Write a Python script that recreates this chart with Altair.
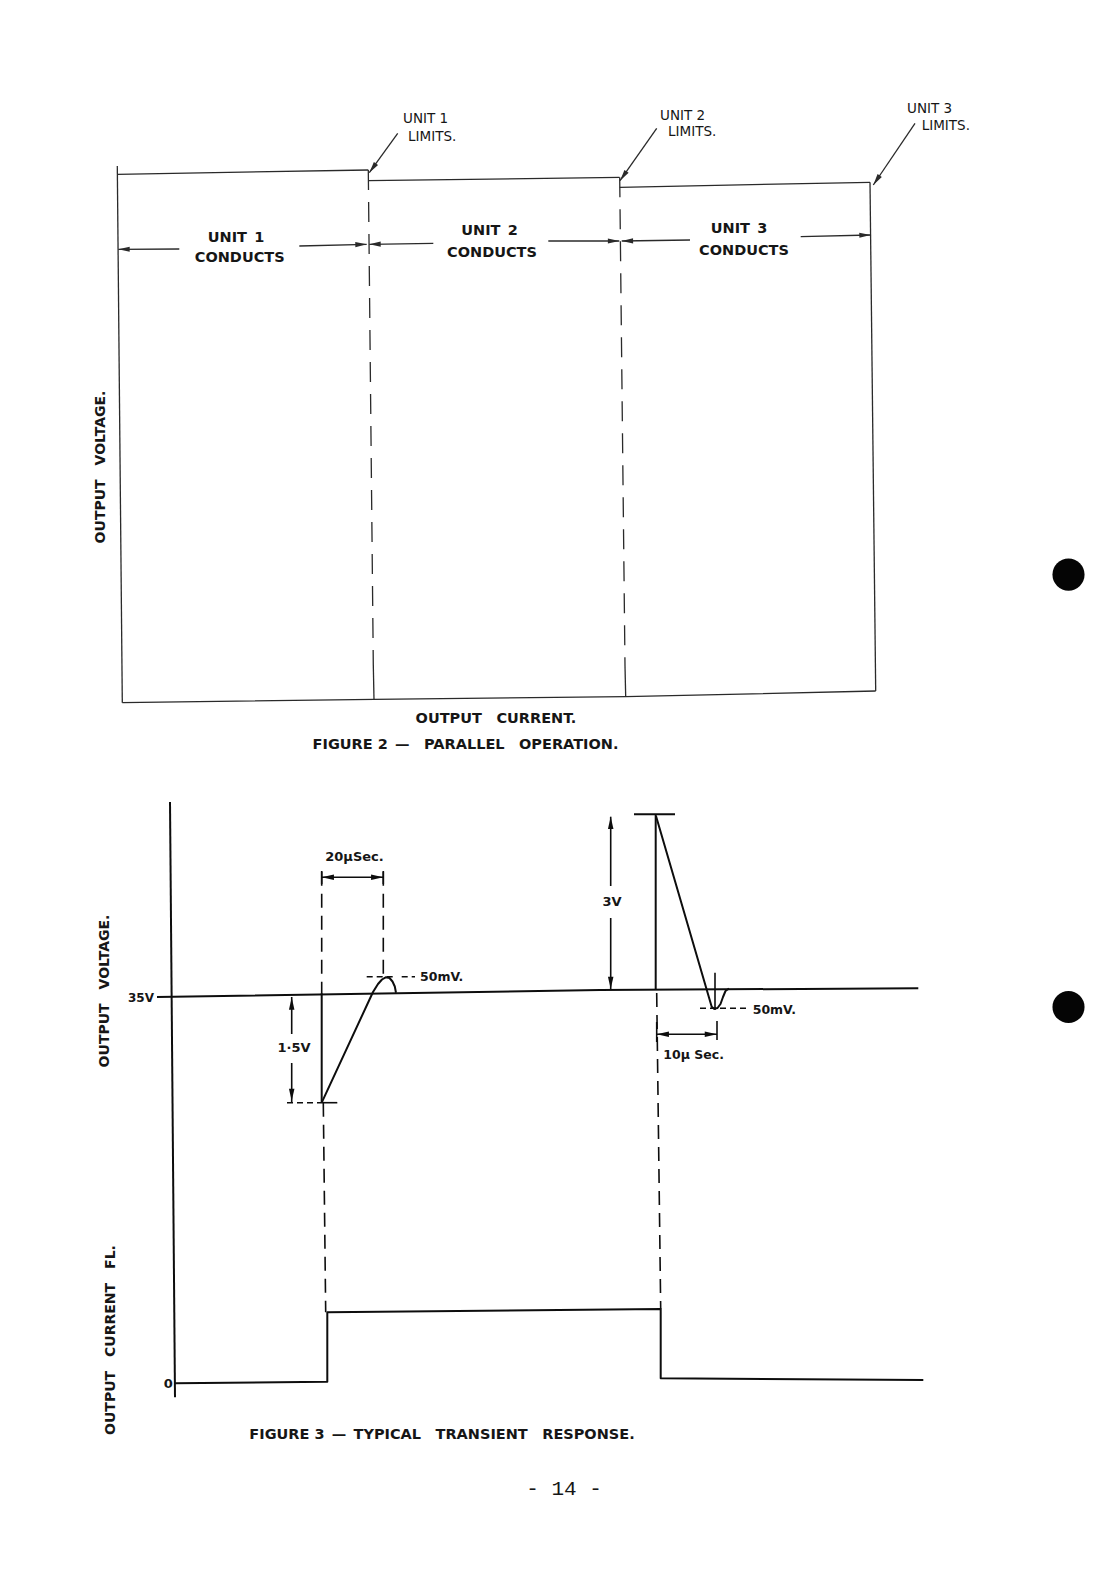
import math
import altair as alt
import pandas as pd

EM = "\u2003"   # wide word gap, as in the stencilled lettering
EN = "\u2002"

# ---------------- Figure 2 : parallel operation (drawing units = page units) ----------------
F2_SOLID = {
    "left":   [(117.3, 166.0), (122.3, 702.7)],
    "bottom": [(122.3, 702.7), (374.0, 699.3), (625.7, 696.7), (875.7, 691.0)],
    "top1":   [(117.3, 174.3), (368.3, 170.0)],
    "top2":   [(368.3, 180.7), (619.5, 177.3)],
    "top3":   [(619.7, 187.3), (870.0, 182.3)],
    "right":  [(870.0, 182.3), (875.7, 691.0)],
    "div1b":  [(373.3, 665.0), (374.0, 699.3)],
    "div2b":  [(625.0, 666.0), (625.7, 696.7)],
    "u1l":    [(118.3, 249.3), (179.3, 249.0)],
    "u1r":    [(299.3, 246.0), (366.7, 244.3)],
    "u2l":    [(369.3, 244.3), (433.3, 243.3)],
    "u2r":    [(548.3, 241.0), (619.3, 241.0)],
    "u3l":    [(621.7, 241.0), (690.0, 240.0)],
    "u3r":    [(800.7, 236.7), (870.7, 235.0)],
    "lead1":  [(397.7, 133.3), (369.3, 172.7)],
    "lead2":  [(656.7, 128.3), (620.0, 180.7)],
    "lead3":  [(915.0, 123.3), (873.3, 185.0)],
}
F2_DASHED = {
    "div1": [(368.3, 170.0), (373.3, 665.0)],
    "div2": [(619.7, 177.3), (625.0, 666.0)],
}
# arrow heads: tip point, and the point the arrow comes from
F2_ARROWS = [
    (118.3, 249.3, 179.3, 249.0), (366.7, 244.3, 299.3, 246.0),
    (369.3, 244.3, 433.3, 243.3), (619.3, 241.0, 548.3, 241.0),
    (621.7, 241.0, 690.0, 240.0), (870.7, 235.0, 800.7, 236.7),
    (369.3, 172.7, 397.7, 133.3), (620.0, 180.7, 656.7, 128.3),
    (873.3, 185.0, 915.0, 123.3),
]
F2_LIMIT_TEXT = ["UNIT 1", "LIMITS.", "UNIT 2", "LIMITS.", "UNIT 3", "LIMITS."]
F2_LIMIT_X = [403, 408, 660, 668, 907, 921.7]
F2_LIMIT_Y = [119, 137, 116, 132.3, 109, 125.7]
F2_COND_TEXT = ["UNIT" + EN + "1", "CONDUCTS", "UNIT" + EN + "2", "CONDUCTS",
                "UNIT" + EN + "3", "CONDUCTS"]
F2_COND_X = [236, 239.7, 489.5, 492, 739, 744]
F2_COND_Y = [237.7, 258.3, 231, 252.5, 229.3, 251]
F2_CAPTION_TEXT = ["OUTPUT" + EM + "CURRENT.",
                   "FIGURE 2" + EN + "\u2014" + EM + "PARALLEL" + EM + "OPERATION."]
F2_CAPTION_X = [496, 465.5]
F2_CAPTION_Y = [719, 745]

# ---------------- Figure 3 : typical transient response ----------------
F3_SOLID = {
    "axis":    [(170.0, 802.0), (175.0, 1397.3)],
    "v35":     [(157.0, 997.0), (600.0, 990.0), (918.3, 988.3)],
    "drop":    [(321.7, 993.0), (321.7, 1102.7)],
    "rise":    [(321.7, 1102.7), (373.0, 992.0), (378.0, 984.0), (382.0, 979.5), (385.7, 977.3),
                (389.5, 978.0), (392.5, 981.5), (394.8, 986.5), (396.0, 992.7)],
    "bar":     [(634.0, 814.3), (675.0, 814.3)],
    "jump":    [(655.7, 814.3), (655.7, 990.0)],
    "fall":    [(656.0, 816.0), (711.7, 1006.7), (714.0, 1008.8), (717.5, 1008.0), (720.5, 1004.0),
                (723.0, 997.0), (725.5, 991.0), (729.0, 988.5)],
    "current": [(175.0, 1383.3), (327.3, 1381.7), (327.3, 1312.3), (660.7, 1309.0),
                (660.7, 1378.3), (923.3, 1380.0)],
}
F3_DIM = {
    "t20":     [(321.7, 877.3), (383.3, 877.3)],
    "t20r":    [(383.3, 871.0), (383.3, 884.0)],
    "t20l":    [(321.7, 871.0), (321.7, 884.0)],
    "v15a":    [(291.7, 997.0), (291.7, 1034.0)],
    "v15b":    [(291.7, 1063.0), (291.7, 1102.7)],
    "v15tick": [(322.0, 1102.7), (337.3, 1102.7)],
    "v3a":     [(610.7, 816.7), (610.7, 886.0)],
    "v3b":     [(610.7, 918.0), (610.7, 990.0)],
    "t10":     [(656.7, 1034.3), (717.0, 1034.3)],
    "t10r":    [(717.0, 1021.0), (717.0, 1040.0)],
    "t10l":    [(656.7, 1022.0), (656.7, 1042.0)],
    "mv50t":   [(715.0, 972.7), (715.0, 1010.0)],
}
F3_DASHED = {
    "d1a": [(321.7, 871.7), (321.7, 993.0)],
    "d1b": [(323.3, 1102.7), (325.7, 1312.3)],
    "d2":  [(383.3, 871.7), (383.3, 976.7)],
    "d3":  [(656.7, 993.0), (660.7, 1309.0)],
}
F3_SHORTDASH = {
    "mv50a": [(366.7, 976.7), (396.7, 976.7)],
    "mv50b": [(401.7, 976.7), (415.0, 976.7)],
    "mv50c": [(700.0, 1008.3), (746.7, 1008.3)],
    "v15d":  [(287.0, 1102.7), (322.0, 1102.7)],
}
F3_ARROWS = [
    (321.7, 877.3, 383.3, 877.3), (383.3, 877.3, 321.7, 877.3),
    (291.7, 997.5, 291.7, 1102.7), (291.7, 1101.0, 291.7, 997.0),
    (610.7, 816.7, 610.7, 990.0), (610.7, 989.0, 610.7, 816.7),
    (656.7, 1034.3, 717.0, 1034.3), (717.0, 1034.3, 656.7, 1034.3),
]
F3_LEFT_TEXT = ["50mV.", "50mV.", "10\u00b5 Sec."]
F3_LEFT_X = [420, 752.7, 663.3]
F3_LEFT_Y = [976.7, 1010, 1055]
F3_CENTER_TEXT = ["20\u00b5Sec.", "1\u00b75V", "3V", "0"]
F3_CENTER_X = [354.5, 294, 612, 168.3]
F3_CENTER_Y = [857, 1048, 901.7, 1384.3]
F3_RIGHT_TEXT = ["35V"]
F3_RIGHT_X = [154]
F3_RIGHT_Y = [998]
F3_CAPTION_TEXT = ["FIGURE 3" + EN + "\u2014" + EN + "TYPICAL" + EM + "TRANSIENT" + EM + "RESPONSE."]
F3_CAPTION_X = [442]
F3_CAPTION_Y = [1435]

AXIS_TITLES = ["OUTPUT" + EM + "VOLTAGE.", "OUTPUT" + EM + "VOLTAGE.",
               "OUTPUT" + EM + "CURRENT" + EM + "FL."]
AXIS_TITLE_X = [101, 105, 111]
AXIS_TITLE_Y = [467, 991, 1340]

PAGE_NUMBER = ["- 14 -"]
PAGE_X = [564]
PAGE_Y = [1489]

PUNCH_X = [1068.5, 1068.5]
PUNCH_Y = [574.6, 1007.0]

# ---------------- chart building ----------------
X = alt.X("x:Q", scale=alt.Scale(domain=[8, 1112], nice=False, zero=False), axis=None)
Y = alt.Y("y:Q", scale=alt.Scale(domain=[8, 1568], nice=False, zero=False, reverse=True), axis=None)


def lines_df(d):
    rows = []
    for name, pts in d.items():
        for i, (x, y) in enumerate(pts):
            rows.append({"seg": name, "i": i, "x": x, "y": y})
    return pd.DataFrame(rows)


def line_layer(d, width, color, dash=None):
    kw = dict(strokeWidth=width, color=color, strokeCap="butt", strokeJoin="round")
    if dash:
        kw["strokeDash"] = dash
    return alt.Chart(lines_df(d)).mark_line(**kw).encode(
        x=X, y=Y, detail="seg:N", order="i:Q")


ARROW_PATH = "M0,0L0.45,2L-0.45,2Z"


def arrow_layer(lst, size, color):
    rows = []
    for tx, ty, fx, fy in lst:
        ang = math.degrees(math.atan2(tx - fx, -(ty - fy))) % 360
        rows.append({"x": tx, "y": ty, "angle": ang})
    return alt.Chart(pd.DataFrame(rows)).mark_point(
        shape=ARROW_PATH, filled=True, size=size, color=color, opacity=1, strokeWidth=0
    ).encode(x=X, y=Y, angle=alt.Angle("angle:Q", scale=None))


def text_layer(texts, xs, ys, **kw):
    df = pd.DataFrame({"t": texts, "x": xs, "y": ys})
    base = dict(baseline="middle", color="#161616")
    base.update(kw)
    return alt.Chart(df).mark_text(**base).encode(x=X, y=Y, text="t:N")


F2C = "#2a2a2a"
F3C = "#0d0d0d"
SANS = "DejaVu Sans"

layers = [
    line_layer(F2_SOLID, 1.3, F2C),
    line_layer(F2_DASHED, 1.3, F2C, [20, 12]),
    arrow_layer(F2_ARROWS, 130, F2C),
    text_layer(F2_LIMIT_TEXT, F2_LIMIT_X, F2_LIMIT_Y, align="left", font=SANS, fontSize=13.5),
    text_layer(F2_COND_TEXT, F2_COND_X, F2_COND_Y, align="center", font=SANS, fontSize=14.5,
               fontWeight="bold"),
    text_layer(F2_CAPTION_TEXT, F2_CAPTION_X, F2_CAPTION_Y, align="center", font=SANS,
               fontSize=14.5, fontWeight="bold"),
    line_layer(F3_SOLID, 2.0, F3C),
    line_layer(F3_DIM, 1.6, F3C),
    line_layer(F3_DASHED, 1.6, F3C, [14, 8]),
    line_layer(F3_SHORTDASH, 1.6, F3C, [6, 4]),
    arrow_layer(F3_ARROWS, 150, F3C),
    text_layer(F3_LEFT_TEXT, F3_LEFT_X, F3_LEFT_Y, align="left", font=SANS, fontSize=12.5,
               fontWeight="bold"),
    text_layer(F3_CENTER_TEXT, F3_CENTER_X, F3_CENTER_Y, align="center", font=SANS,
               fontSize=13, fontWeight="bold"),
    text_layer(F3_RIGHT_TEXT, F3_RIGHT_X, F3_RIGHT_Y, align="right", font=SANS, fontSize=12,
               fontWeight="bold"),
    text_layer(F3_CAPTION_TEXT, F3_CAPTION_X, F3_CAPTION_Y, align="center", font=SANS,
               fontSize=14.5, fontWeight="bold"),
    text_layer(AXIS_TITLES, AXIS_TITLE_X, AXIS_TITLE_Y, align="center", font=SANS, fontSize=14,
               fontWeight="bold", angle=270),
    text_layer(PAGE_NUMBER, PAGE_X, PAGE_Y, align="center", font="Liberation Mono", fontSize=21),
    alt.Chart(pd.DataFrame({"x": PUNCH_X, "y": PUNCH_Y})).mark_point(
        shape="circle", filled=True, size=1030, color="#050505", opacity=1
    ).encode(x=X, y=Y),
]

chart = alt.layer(*layers).properties(
    width=1104, height=1560, padding=0, autosize=alt.AutoSizeParams(type="none"),
    background="white",
).configure_view(stroke=None)

chart.save("out.html", embed_options={"renderer": "svg", "actions": False})
